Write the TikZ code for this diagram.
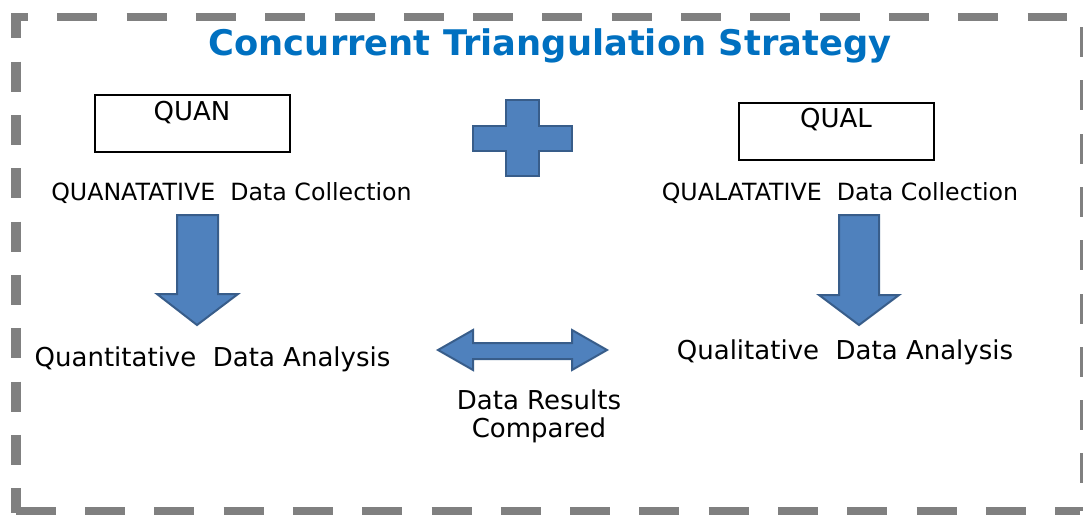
\documentclass[tikz,border=0pt]{standalone}
\usepackage{fontspec}
\setmainfont{DejaVu Sans}
\definecolor{arrowfill}{HTML}{4F81BD}
\definecolor{arrowline}{HTML}{385D8A}
\definecolor{framegray}{HTML}{808080}
\definecolor{titleblue}{HTML}{0070C0}
\begin{document}
\begin{tikzpicture}[x=1pt,y=-1pt,
  blockshape/.style={fill=arrowfill,draw=arrowline,line width=2pt,line join=miter},
  labelbox/.style={draw=black,line width=1.2pt},
  bodytext/.style={font=\fontsize{26}{31}\selectfont,anchor=base,inner sep=0pt},
  colltext/.style={font=\fontsize{23.7}{28}\selectfont,anchor=base,inner sep=0pt},
  titletext/.style={font=\fontsize{35.3}{42}\selectfont\bfseries,text=titleblue,anchor=base,inner sep=0pt},
  hframe/.style={draw=framegray,line width=7.5pt,dash pattern=on 40pt off 29.3pt},
  vframe/.style={draw=framegray,line width=10pt,dash pattern=on 30pt off 23.3pt}]
\useasboundingbox (0,0) rectangle (1083,514);
% dashed frame
\draw[hframe,dash phase=23pt] (11,17) -- (1067,17);
\draw[vframe,dash phase=4.6pt] (16,13) -- (16,513);
\draw[hframe,dash phase=64.6pt] (11,511) -- (1080,511);
\draw[vframe] (1085,27) -- (1085,511);
% title
\node[titletext] (title) at (550,55) {Concurrent Triangulation Strategy};
% boxes
\draw[labelbox] (95,95) rectangle (290,152);
\node[bodytext] (quan) at (192,120.5) {QUAN};
\draw[labelbox] (739,103) rectangle (934,160);
\node[bodytext] (qual) at (836,127.5) {QUAL};
% plus
\draw[blockshape] (506,100) -- (539,100) -- (539,126) -- (572,126) -- (572,151) -- (539,151)
  -- (539,176) -- (506,176) -- (506,151) -- (473,151) -- (473,126) -- (506,126) -- cycle;
% texts
\node[colltext] (qncoll) at (231.5,200.6) {QUANATATIVE\ \ Data Collection};
\node[colltext] (qlcoll) at (840,200.6) {QUALATATIVE\ \ Data Collection};
\node[bodytext] (qnana) at (212.5,366.5) {Quantitative\ \ Data Analysis};
\node[bodytext] (qlana) at (845,359.5) {Qualitative\ \ Data Analysis};
\node[bodytext] (cmp1) at (539,409.5) {Data Results};
\node[bodytext] (cmp2) at (539,437.5) {Compared};
% down arrows
\draw[blockshape] (177,215) -- (218,215) -- (218,294) -- (238,294) -- (197,325) -- (157,294) -- (177,294) -- cycle;
\draw[blockshape] (839,215) -- (879,215) -- (879,295) -- (899,295) -- (859,325) -- (819,295) -- (839,295) -- cycle;
% double arrow
\draw[blockshape] (438,350) -- (473,330) -- (473,343) -- (572,343) -- (572,330) -- (607,350)
  -- (572,370) -- (572,359) -- (473,359) -- (473,370) -- cycle;
\end{tikzpicture}
\end{document}
